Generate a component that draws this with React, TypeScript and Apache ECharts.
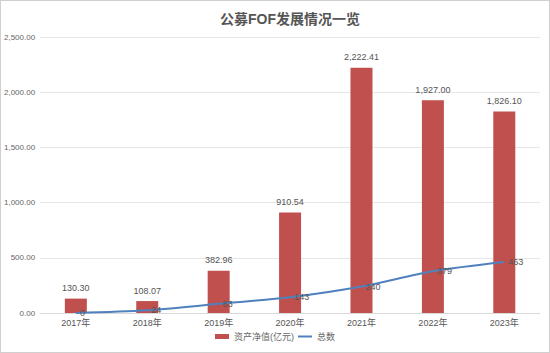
import React, { useEffect, useRef } from "react";
import * as echarts from "echarts";

const categories = ["2017年", "2018年", "2019年", "2020年", "2021年", "2022年", "2023年"];
const netAssets = [130.3, 108.07, 382.96, 910.54, 2222.41, 1927.0, 1826.1];
const totalCount = [0, 24, 83, 143, 240, 379, 463];
const yTicks = { min: 0, max: 2500, interval: 500 };

const fmt = (v: number) =>
  v.toLocaleString("en-US", { minimumFractionDigits: 2, maximumFractionDigits: 2 });

export default function App() {
  const ref = useRef<HTMLDivElement>(null);
  useEffect(() => {
    if (!ref.current) return;
    const chart = echarts.init(ref.current, null, { renderer: "svg" });
    chart.setOption({
      animation: false,
      backgroundColor: "#ffffff",
      textStyle: { fontFamily: "Liberation Sans, Noto Sans CJK SC, sans-serif" },
      title: {
        text: "公募FOF发展情况一览",
        left: 214,
        top: 6,
        textStyle: {
          fontSize: 14,
          fontWeight: "bold",
          color: "#555555",
          fontFamily: "Liberation Sans, Noto Sans CJK SC, sans-serif",
        },
      },
      legend: {
        bottom: 6,
        left: "center",
        itemWidth: 14,
        itemHeight: 5,
        itemGap: 4,
        textStyle: { fontSize: 9, color: "#666666" },
        data: [
          { name: "资产净值(亿元)", icon: "rect" },
          { name: "总数", icon: "path://M0,0 L14,0 L14,2 L0,2 Z" },
        ],
      },
      grid: { left: 38, right: 9, top: 36, bottom: 39 },
      xAxis: {
        type: "category",
        data: categories,
        axisLine: { lineStyle: { color: "#d9d9d9" } },
        axisTick: { show: false },
        axisLabel: { fontSize: 9, color: "#555555", margin: 5 },
      },
      yAxis: {
        type: "value",
        min: yTicks.min,
        max: yTicks.max,
        interval: yTicks.interval,
        axisLine: { show: false },
        axisTick: { show: false },
        axisLabel: { fontSize: 8, color: "#666666", margin: 5, formatter: (v: number) => fmt(v) },
        splitLine: { lineStyle: { color: "#e6e6e6", width: 1 } },
      },
      series: [
        {
          name: "资产净值(亿元)",
          type: "bar",
          data: netAssets,
          barWidth: 22,
          itemStyle: { color: "#c0504d" },
          label: {
            show: true,
            position: "top",
            distance: 6,
            fontSize: 9,
            color: "#555555",
            formatter: (p: any) => fmt(p.value),
          },
        },
        {
          name: "总数",
          type: "line",
          data: totalCount,
          smooth: 0.3,
          showSymbol: true,
          symbol: "circle",
          symbolSize: 0.1,
          lineStyle: { color: "#4f81bd", width: 2 },
          itemStyle: { color: "#4f81bd" },
          label: {
            show: true,
            position: "right",
            distance: 4,
            fontSize: 9,
            color: "#555555",
          },
        },
      ],
    });
    return () => chart.dispose();
  }, []);
  return (
    <div
      ref={ref}
      style={{
        position: "fixed",
        left: 0,
        top: 0,
        width: 550,
        height: 353,
        boxSizing: "border-box",
        border: "1px solid #d0d0d0",
      }}
    />
  );
}
